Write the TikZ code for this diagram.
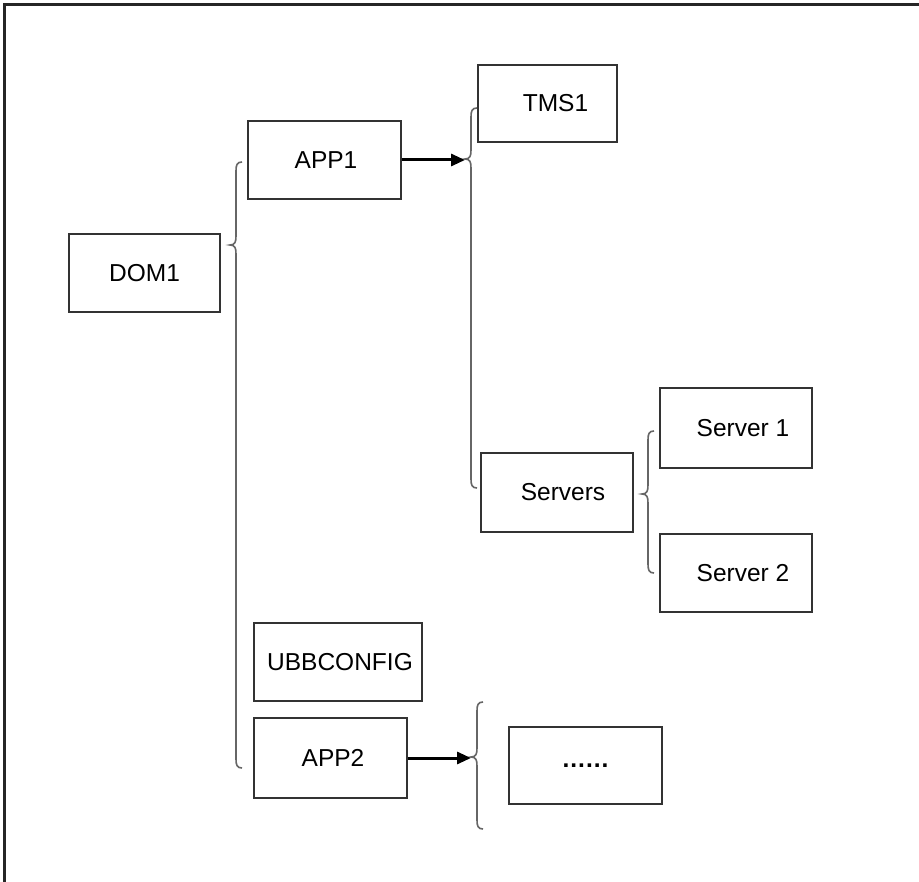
\documentclass[tikz,border=0pt]{standalone}
\usepackage{fontspec}
\setmainfont{Liberation Sans}
\usetikzlibrary{arrows.meta}
\definecolor{boxline}{HTML}{333333}
\definecolor{braceline}{HTML}{666666}
\tikzset{
  box/.style={draw=boxline, line width=1.5pt, rectangle, inner sep=0pt,
    font=\fontsize{24.5}{28}\selectfont, text=black},
  bracestyle/.style={draw=braceline, line width=1.6pt},
  arr/.style={draw=black, line width=3pt, -{Triangle[length=14pt,width=12pt]}},
  frame/.style={draw=black!85, line width=2.8pt}
}
\newcommand\mybrace[4]{%
  \draw[bracestyle] (#1+6,#2) .. controls (#1+1,#2) and (#1,#2+3) .. (#1,#2+9)
    -- (#1,#3-9) .. controls (#1,#3-3) and (#1-1,#3) .. (#1-6,#3)
    .. controls (#1-1,#3) and (#1,#3+3) .. (#1,#3+9)
    -- (#1,#4-9) .. controls (#1,#4-3) and (#1+1,#4) .. (#1+6,#4);}
\begin{document}
\begin{tikzpicture}[x=1pt,y=-1pt]
\useasboundingbox (0,0) rectangle (919,882);
\fill[white] (0,0) rectangle (919,882);
\draw[frame] (4.5,882) -- (4.5,4.5) -- (919,4.5);

\node[box, minimum width=151pt, minimum height=78pt] (dom) at (144.5,273) {DOM1};
\node[box, minimum width=153pt, minimum height=78pt] (app1) at (324.5,160) {\hspace*{3pt}APP1};
\node[box, minimum width=139pt, minimum height=77pt] (tms1) at (547.5,103.5) {\hspace*{16pt}TMS1};
\node[box, minimum width=152pt, minimum height=79pt] (servers) at (557,492.5) {\hspace*{12pt}Servers};
\node[box, minimum width=152pt, minimum height=80pt] (server1) at (736,428) {\hspace*{14pt}Server 1};
\node[box, minimum width=152pt, minimum height=78pt] (server2) at (736,573) {\hspace*{14pt}Server 2};
\node[box, minimum width=168pt, minimum height=78pt] (ubb) at (338,662) {\hspace*{4pt}UBBCONFIG};
\node[box, minimum width=153pt, minimum height=80pt] (app2) at (330.5,758) {\hspace*{5pt}APP2};
\node[box, minimum width=153pt, minimum height=77pt] (more) at (585.5,765.5) {\raisebox{-4pt}{\textbf{.\kern1pt.\kern1pt.\kern1pt.\kern1pt.\kern1pt.}}};

% braces
\mybrace{236}{162}{245}{768}
\mybrace{471}{108}{159}{488}
\mybrace{648}{431}{494}{573}
\mybrace{477}{702}{757}{829}

\coordinate (b1tip) at (465,160);
\coordinate (b3tip) at (471,758);
\draw[arr] (app1.east) -- (b1tip);
\draw[arr] (app2.east) -- (b3tip);
\end{tikzpicture}
\end{document}
